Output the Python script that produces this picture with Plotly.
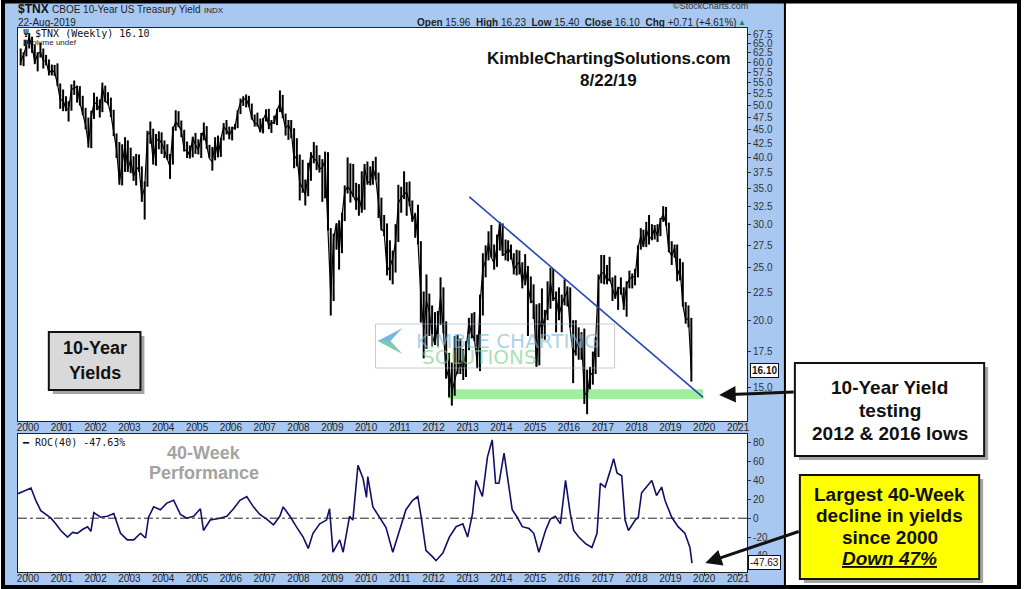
import plotly.graph_objects as go
import pandas as pd
import math

# ---------------- DATA ----------------
month_start = "1999-10-01"
price_high = [63.6, 62.6, 64.5,
              67.9, 66.9, 64.6, 62.6, 65.2, 63.6, 61.9, 60.7, 59.4, 59.3, 59.7, 54.8,
              53.4, 51.9, 50.8, 54.6, 55.5, 54.3, 54.2, 52.0, 49.4, 47.4, 48.8, 52.7,
              51.8, 51.2, 55.0, 54.3, 52.8, 51.6, 49.0, 44.3, 42.7, 42.3, 43.6, 43.0,
              41.7, 40.2, 40.6, 40.5, 38.5, 36.1, 44.8, 46.6, 45.2, 44.2, 44.7, 44.5,
              43.0, 42.3, 40.6, 45.6, 48.9, 48.7, 46.8, 45.0, 42.8, 42.1, 43.7, 44.4,
              43.2, 44.4, 46.4, 45.7, 42.2, 41.8, 43.6, 43.9, 43.5, 46.3, 46.9, 45.6,
              45.6, 46.1, 48.9, 51.4, 51.9, 52.3, 52.0, 50.3, 48.0, 48.4, 47.2, 47.3,
              49.1, 49.2, 46.9, 47.8, 49.2, 53.2, 52.2, 48.2, 46.9, 46.9, 45.3, 43.4,
              40.5, 39.6, 36.4, 39.1, 40.9, 42.7, 42.1, 40.4, 39.7, 41.0, 40.9, 29.6,
              28.9, 30.2, 30.6, 31.6, 35.5, 40.0, 39.0, 38.9, 35.9, 35.7, 37.7, 38.9,
              39.3, 38.5, 39.4, 40.1, 37.5, 33.7, 31.3, 30.2, 28.1, 26.9, 30.1, 35.6,
              35.3, 37.7, 36.0, 36.1, 33.3, 31.4, 32.7, 28.0, 22.6, 24.3, 22.4, 21.3,
              20.7, 20.8, 24.0, 23.0, 19.9, 17.4, 16.7, 18.7, 18.8, 18.5, 17.7, 18.3,
              20.2, 20.6, 20.7, 18.8, 22.3, 26.6, 27.5, 29.2, 30.0, 27.6, 28.8, 30.4,
              30.2, 28.2, 28.1, 27.6, 26.6, 27.0, 26.9, 25.6, 26.5, 25.2, 24.1, 23.3,
              21.4, 21.5, 22.9, 20.9, 23.6, 25.0, 24.9, 22.6, 23.0, 22.3, 23.8, 23.1,
              23.0, 20.0, 20.0, 19.4, 19.0, 19.3, 16.2, 16.4, 17.5, 18.6, 24.3, 26.4,
              26.4, 25.3, 26.2, 24.0, 24.2, 23.0, 24.0, 23.0, 23.6, 24.7, 24.4, 24.9,
              27.5, 29.6, 29.4, 30.4, 31.3, 30.1, 30.0, 30.1, 30.9, 32.5, 32.4, 30.3,
              28.0, 27.6, 27.6, 26.0, 25.6, 21.6, 21.3, 20.2]
price_low = [59.2, 59.0, 61.5,
             63.6, 62.4, 59.5, 57.7, 61.2, 58.4, 59.2, 56.7, 56.7, 56.6, 54.2, 49.2,
             48.7, 48.7, 46.6, 48.8, 52.2, 50.5, 49.9, 47.9, 45.1, 41.7, 41.6, 47.1,
             48.9, 47.4, 48.5, 50.6, 50.1, 47.5, 43.8, 39.9, 35.6, 35.5, 37.6, 37.6,
             37.4, 36.2, 35.5, 37.6, 33.1, 30.7, 35.3, 42.4, 38.8, 38.6, 41.4, 40.6,
             39.9, 39.6, 36.5, 38.8, 44.8, 45.5, 43.6, 41.0, 39.9, 39.8, 40.0, 40.6,
             40.5, 39.9, 43.0, 41.5, 39.9, 37.8, 39.5, 40.0, 40.1, 43.0, 44.1, 43.2,
             43.0, 45.0, 45.3, 48.1, 49.8, 49.5, 49.6, 47.0, 45.6, 45.6, 44.5, 44.3,
             46.6, 45.1, 44.4, 46.1, 45.9, 48.5, 47.3, 43.9, 43.1, 43.4, 38.2, 38.5,
             33.3, 34.4, 32.6, 33.9, 36.2, 39.0, 37.9, 37.5, 33.1, 33.6, 29.3, 20.4,
             21.7, 27.0, 24.8, 26.6, 30.5, 34.3, 33.0, 33.8, 32.0, 31.2, 31.6, 32.0,
             35.6, 35.5, 35.6, 36.4, 30.9, 29.3, 28.6, 24.2, 23.7, 23.3, 24.5, 27.9,
             31.6, 33.5, 31.2, 32.5, 30.4, 28.4, 27.6, 19.8, 17.0, 17.7, 18.7, 17.9,
             18.0, 17.9, 19.6, 18.9, 15.6, 14.4, 13.9, 14.5, 15.9, 15.9, 15.5, 15.7,
             17.6, 18.5, 18.3, 16.3, 16.1, 20.4, 24.0, 25.8, 26.1, 24.8, 25.1, 26.9,
             26.3, 25.8, 25.7, 25.9, 24.3, 24.2, 24.3, 22.9, 23.2, 18.7, 21.5, 20.1,
             16.4, 16.5, 18.5, 18.4, 20.0, 21.0, 21.7, 19.0, 20.0, 19.0, 21.3, 21.2,
             19.4, 15.3, 17.2, 16.9, 16.9, 14.0, 13.4, 14.9, 15.2, 15.9, 17.1, 23.4,
             23.3, 23.3, 23.6, 21.7, 21.9, 20.9, 22.3, 20.9, 20.3, 22.9, 22.9, 23.2,
             24.0, 27.0, 27.3, 27.3, 27.6, 28.1, 28.2, 27.9, 28.6, 30.4, 29.9, 26.7,
             25.3, 26.1, 23.6, 23.7, 21.2, 19.7, 19.4, 15.4]
price_close = [60.2, 61.9, 64.4,
               66.7, 64.1, 60.0, 62.1, 62.7, 60.3, 60.3, 57.2, 58.0, 57.5, 54.7, 51.1,
               51.1, 49.0, 49.2, 53.4, 53.8, 54.1, 50.5, 48.3, 45.9, 42.3, 47.5, 50.5,
               50.3, 48.8, 54.0, 50.8, 50.4, 48.0, 44.6, 41.4, 36.0, 38.9, 42.1, 38.1,
               39.6, 36.9, 38.0, 38.4, 33.7, 35.2, 44.1, 44.6, 39.4, 42.9, 43.3, 42.5,
               41.3, 39.7, 38.4, 45.1, 46.5, 45.8, 44.8, 41.2, 41.2, 40.3, 43.5, 42.2,
               41.3, 43.6, 44.8, 42.0, 39.8, 39.2, 42.8, 40.2, 43.3, 45.6, 44.9, 43.9,
               45.2, 45.5, 48.5, 50.5, 51.2, 51.4, 49.8, 47.3, 46.3, 46.1, 44.6, 47.0,
               48.2, 45.6, 46.4, 46.3, 48.9, 50.3, 47.4, 45.3, 45.9, 44.7, 39.7, 40.3,
               35.9, 35.1, 34.1, 37.3, 40.6, 39.7, 39.5, 38.1, 38.3, 39.5, 29.3, 22.1,
               28.4, 30.2, 26.6, 31.2, 34.6, 35.3, 34.8, 34.0, 33.1, 33.9, 32.0, 38.4,
               35.9, 36.1, 38.3, 36.6, 32.9, 29.5, 29.1, 24.7, 25.1, 26.0, 27.9, 32.9,
               33.7, 34.2, 34.5, 32.9, 30.5, 31.6, 28.0, 22.2, 19.2, 21.7, 20.7, 18.8,
               18.0, 19.8, 22.1, 19.2, 15.6, 16.4, 14.7, 15.5, 16.3, 16.9, 16.1, 17.6,
               19.8, 18.8, 18.5, 16.7, 21.3, 24.9, 25.8, 27.8, 26.1, 25.5, 27.4, 30.3,
               26.4, 26.5, 27.2, 26.5, 24.8, 25.3, 25.6, 23.4, 24.9, 23.4, 21.6, 21.7,
               16.4, 20.0, 19.2, 20.3, 21.0, 23.5, 21.8, 22.1, 20.4, 21.4, 22.1, 22.7,
               19.2, 17.3, 17.7, 18.3, 18.5, 14.7, 14.5, 15.8, 16.0, 18.3, 23.7, 24.4,
               24.5, 23.6, 23.9, 22.8, 22.0, 23.0, 22.9, 21.2, 23.3, 23.8, 24.1, 24.0,
               27.2, 28.6, 27.4, 29.5, 28.3, 28.5, 29.6, 28.6, 30.6, 31.4, 30.1, 26.9,
               26.3, 27.2, 24.1, 25.0, 21.3, 20.0, 20.2, 16.1]

roc_dates = ["1999-09-15", "1999-11-03", "1999-12-28", "2000-02-03", "2000-03-29", "2000-05-19",
             "2000-07-13", "2000-09-06", "2000-10-27", "2000-12-21", "2001-03-04", "2001-04-28",
             "2001-06-18", "2001-08-12", "2001-10-06", "2001-11-11", "2001-12-13", "2002-02-24",
             "2002-05-08", "2002-07-16", "2002-09-27", "2002-12-09", "2003-02-17", "2003-05-01",
             "2003-06-24", "2003-07-27", "2003-09-20", "2003-12-02", "2004-02-09", "2004-04-23",
             "2004-07-05", "2004-09-13", "2004-11-25", "2005-02-06", "2005-03-11", "2005-05-23",
             "2005-09-06", "2005-11-18", "2006-01-30", "2006-04-09", "2006-06-21", "2006-09-02",
             "2006-11-10", "2007-01-23", "2007-04-06", "2007-06-14", "2007-07-20", "2007-10-01",
             "2007-12-09", "2008-02-21", "2008-04-16", "2008-06-06", "2008-08-18", "2008-10-30",
             "2008-12-02", "2009-01-08", "2009-03-22", "2009-04-28", "2009-07-06", "2009-08-11",
             "2009-10-05", "2009-11-29", "2010-01-05", "2010-01-19", "2010-03-15", "2010-05-27",
             "2010-08-04", "2010-10-16", "2010-12-28", "2011-03-07", "2011-05-19", "2011-07-13",
             "2011-08-19", "2011-10-09", "2011-12-21", "2012-01-26", "2012-04-09", "2012-06-18",
             "2012-08-30", "2012-11-11", "2013-01-01", "2013-02-24", "2013-04-02", "2013-06-10",
             "2013-08-04", "2013-09-24", "2013-10-31", "2013-12-06", "2014-01-30", "2014-03-26",
             "2014-04-28", "2014-06-21", "2014-08-15", "2014-10-27", "2014-12-17", "2015-02-10",
             "2015-04-23", "2015-06-13", "2015-08-07", "2015-10-01", "2015-11-25", "2016-01-15",
             "2016-02-21", "2016-04-16", "2016-06-28", "2016-09-05", "2016-10-30", "2016-12-05",
             "2017-01-26", "2017-03-24", "2017-04-28", "2017-06-03", "2017-07-24", "2017-08-29",
             "2017-10-05", "2017-12-17", "2018-01-19", "2018-02-24", "2018-04-20", "2018-06-14",
             "2018-08-04", "2018-09-28", "2018-11-03", "2019-01-15", "2019-03-25", "2019-06-06",
             "2019-07-31", "2019-08-22"]
roc_values = [26, 28, 30, 32, 18, 8,
              4, 0, -6, -13, -20, -15,
              -16, -12, -9, -14, 6, 1,
              2, 5, -16, -23, -23, -16,
              -21, 1, 12, 9, 16, 19,
              4, 0, 2, 10, -13, -2,
              0, 2, 10, 19, 23, 12,
              4, -1, -7, 2, 12, 2,
              -9, -20, -32, -16, -6, -2,
              10, -36, -23, -36, 2, -2,
              56, 42, 22, 44, 12, 0,
              -10, -36, -13, 9, 19, 23,
              1, -34, -41, -45, -37, -20,
              -9, -6, -20, 5, 40, 23,
              65, 83, 37, 37, 69, 33,
              9, 1, -9, -11, -16, -36,
              -13, -1, 2, -6, 40, 5,
              -13, -20, -27, -31, -16, 37,
              33, 51, 63, 48, 45, -2,
              -13, -2, 1, 27, 33, 40,
              24, 33, 19, 1, -9, -16,
              -31, -47.63]

year_ticks = list(range(2000, 2022))
price_ticks = [15.0, 17.5, 20.0, 22.5, 25.0, 27.5, 30.0, 32.5, 35.0, 37.5, 40.0, 42.5,
               45.0, 47.5, 50.0, 52.5, 55.0, 57.5, 60.0, 62.5, 65.0, 67.5]
roc_ticks = [-40, -20, 0, 20, 40, 60, 80]

trend_dates = ["2013-01-20", "2019-12-20"]
trend_values = [33.8, 14.4]
support_dates = ["2012-06-10", "2019-12-20"]
support_low, support_high = 14.3, 14.9

# ---------------- FIGURE ----------------
W, H = 1024, 589
def px(x): return x / W
def py(y): return 1 - y / H

FONT = "Liberation Sans, Arial, sans-serif"
BLUE_BG = "#a8c8f2"

months = pd.date_range(month_start, periods=len(price_close), freq="MS") + pd.Timedelta(days=14)
months = [d.strftime("%Y-%m-%d") for d in months]

fig = go.Figure()

# support band
fig.add_trace(go.Scatter(
    x=[support_dates[0], support_dates[1], support_dates[1], support_dates[0], support_dates[0]],
    y=[support_low, support_low, support_high, support_high, support_low],
    fill="toself", fillcolor="#9ef09e", line=dict(width=0), mode="lines",
    hoverinfo="skip", showlegend=False, xaxis="x", yaxis="y"))

# weekly-style bars (high-low ranges)
bx, by = [], []
for d, h, l in zip(months, price_high, price_low):
    bx += [d, d, None]
    by += [l, h, None]
fig.add_trace(go.Scatter(x=bx, y=by, mode="lines", line=dict(color="black", width=2.0),
                         hoverinfo="skip", showlegend=False, xaxis="x", yaxis="y"))
fig.add_trace(go.Scatter(x=months, y=price_close, mode="lines", line=dict(color="black", width=1.2),
                         hoverinfo="skip", showlegend=False, xaxis="x", yaxis="y"))

# trend line
fig.add_trace(go.Scatter(x=trend_dates, y=trend_values, mode="lines",
                         line=dict(color="#2746b8", width=1.6), hoverinfo="skip",
                         showlegend=False, xaxis="x", yaxis="y"))

# ROC line
fig.add_trace(go.Scatter(x=roc_dates, y=roc_values, mode="lines",
                         line=dict(color="#10106a", width=1.6), hoverinfo="skip",
                         showlegend=False, xaxis="x2", yaxis="y2"))

x_range = ["1999-09-15", "2021-04-08"]
common_x = dict(type="date", range=x_range, showgrid=False, zeroline=False,
                tickvals=[f"{y}-01-01" for y in year_ticks], ticktext=[str(y) for y in year_ticks],
                tickfont=dict(family=FONT, size=10, color="#222"), ticks="outside", ticklen=3,
                tickcolor="#333", showline=True, linecolor="#222", linewidth=1, mirror=True,
                ticklabelstandoff=-6)

fig.update_layout(
    width=W, height=H, margin=dict(l=0, r=0, t=0, b=0),
    paper_bgcolor="white", plot_bgcolor="rgba(0,0,0,0)", showlegend=False,
    xaxis=dict(domain=[px(17), px(749)], anchor="y", **common_x),
    xaxis2=dict(domain=[px(17), px(749)], anchor="y2", matches="x", **common_x),
    yaxis=dict(domain=[py(421), py(28)], anchor="x", type="log",
               range=[math.log10(13.02), math.log10(69.4)], side="right",
               tickvals=price_ticks, ticktext=[f"{v:.1f}" for v in price_ticks],
               tickfont=dict(family=FONT, size=10, color="#333"), ticks="outside", ticklen=3,
               tickcolor="#333", showgrid=False, zeroline=False, showline=True,
               linecolor="#222", mirror=True),
    yaxis2=dict(domain=[py(572), py(434)], anchor="x2", range=[-57, 89.2], side="right",
                tickvals=roc_ticks, ticktext=[str(v) for v in roc_ticks],
                tickfont=dict(family=FONT, size=10, color="#333"), ticks="outside", ticklen=3,
                tickcolor="#333", showgrid=False, zeroline=False, showline=True,
                linecolor="#222", mirror=True),
)

shapes = []
# blue stockcharts background and white plotting panels
shapes.append(dict(type="rect", xref="paper", yref="paper", x0=px(4), x1=px(787), y0=py(586), y1=py(2),
                   fillcolor=BLUE_BG, line=dict(width=0), layer="below"))
shapes.append(dict(type="rect", xref="paper", yref="paper", x0=px(17), x1=px(749), y0=py(421), y1=py(28),
                   fillcolor="white", line=dict(width=0), layer="below"))
shapes.append(dict(type="rect", xref="paper", yref="paper", x0=px(17), x1=px(749), y0=py(572), y1=py(434),
                   fillcolor="white", line=dict(width=0), layer="below"))
# zero line in ROC panel
shapes.append(dict(type="line", xref="x2 domain", yref="y2", x0=0, x1=1, y0=0, y1=0,
                   line=dict(color="#222", width=1, dash="dashdot"), layer="above"))
# separator & outer border
shapes.append(dict(type="line", xref="paper", yref="paper", x0=px(787), x1=px(787), y0=py(586), y1=py(2),
                   line=dict(color="black", width=2)))
shapes.append(dict(type="rect", xref="paper", yref="paper", x0=px(2), x1=px(1022), y0=py(587), y1=py(1.5),
                   line=dict(color="black", width=4), fillcolor="rgba(0,0,0,0)"))

def box(x0, y0, x1, y1, fill, lw=2):
    shapes.append(dict(type="rect", xref="paper", yref="paper", x0=px(x0 + 4), x1=px(x1 + 4),
                       y0=py(y1 + 4), y1=py(y0 + 4), fillcolor="rgba(90,90,90,0.55)", line=dict(width=0)))
    shapes.append(dict(type="rect", xref="paper", yref="paper", x0=px(x0), x1=px(x1),
                       y0=py(y1), y1=py(y0), fillcolor=fill, line=dict(color="#111", width=lw)))

box(48, 332, 140, 390, "#d9d9d9")
box(797, 363, 987, 456, "white")
box(802, 475, 982, 579, "#ffff00")

# watermark frame and arrow logo
shapes.append(dict(type="rect", xref="paper", yref="paper", x0=px(376), x1=px(616), y0=py(368), y1=py(324),
                   line=dict(color="rgba(150,170,190,0.6)", width=1), fillcolor="rgba(0,0,0,0)"))
shapes.append(dict(type="path", xref="paper", yref="paper",
                   path=f"M {px(378)},{py(341)} L {px(403)},{py(328)} L {px(391)},{py(341)} Z",
                   fillcolor="rgba(70,160,215,0.75)", line=dict(width=0)))
shapes.append(dict(type="path", xref="paper", yref="paper",
                   path=f"M {px(378)},{py(341)} L {px(391)},{py(341)} L {px(403)},{py(354)} Z",
                   fillcolor="rgba(80,185,140,0.75)", line=dict(width=0)))
fig.update_layout(shapes=shapes)

ann = []
def text(x, y, s, size=10, color="#111", xanchor="left", yanchor="middle", family=FONT, **kw):
    ann.append(dict(xref="paper", yref="paper", x=px(x), y=py(y), text=s, showarrow=False,
                    xanchor=xanchor, yanchor=yanchor, font=dict(family=family, size=size, color=color), **kw))

# header
text(15, 9, "<b>$TNX</b>", size=12, color="#111")
text(49, 9, "CBOE 10-Year US Treasury Yield", size=10, color="#222")
text(202, 10, "INDX", size=8, color="#222")
text(15, 22, "22-Aug-2019", size=10, color="#222")
text(752, 6, "©StockCharts.com", size=9, color="#333", xanchor="right")
text(741, 22, "<b>Open</b> 15.96  <b>High</b> 16.23  <b>Low</b> 15.40  <b>Close</b> 16.10  <b>Chg</b> +0.71 (+4.61%)",
     size=10, color="#222", xanchor="right")
text(750, 22, "▲", size=8, color="#1a8a3a", xanchor="right")

# legends in panels
text(20, 34, "Ψ $TNX (Weekly) 16.10", size=10, color="#111", family="DejaVu Sans Mono, monospace")
text(20, 42, "<b>▮</b>Volume undef", size=8, color="#222")
text(19, 442, "━ ROC(40) -47.63%", size=10, color="#111", family="DejaVu Sans Mono, monospace")

# titles
text(610, 58, "<b>KimbleChartingSolutions.com</b>", size=17, xanchor="center")
text(610, 81, "<b>8/22/19</b>", size=17, xanchor="center")
text(204, 453, "<b>40-Week</b>", size=18, color="#a3a3a3", xanchor="center")
text(204, 473, "<b>Performance</b>", size=18, color="#a3a3a3", xanchor="center")

# watermark text
text(509, 341, "KIMBLE CHARTING", size=20, color="rgba(120,185,220,0.65)", xanchor="center",
     family="DejaVu Sans, Verdana, sans-serif")
text(480, 357, "SOLUTIONS", size=20, color="rgba(120,205,140,0.65)", xanchor="center",
     family="DejaVu Sans, Verdana, sans-serif")

# boxes text
text(94, 348, "<b>10-Year</b>", size=18, xanchor="center")
text(94, 373, "<b>Yields</b>", size=18, xanchor="center")
text(892, 387, "<b>10-Year Yield</b>", size=19, xanchor="center")
text(892, 410, "<b>testing</b>", size=19, xanchor="center")
text(892, 433, "<b>2012 & 2016 lows</b>", size=19, xanchor="center")
text(892, 494, "<b>Largest 40-Week</b>", size=19, xanchor="center")
text(892, 515, "<b>decline in yields</b>", size=19, xanchor="center")
text(892, 537, "<b>since 2000</b>", size=19, xanchor="center")
text(892, 558, "<b><i><u>Down 47%</u></i></b>", size=19, xanchor="center")

# value tags on axes
text(752, 370, "<b>16.10</b>", size=10, bgcolor="white", bordercolor="#111", borderwidth=1, borderpad=1)
text(750, 562, "-47.63", size=10, bgcolor="white", bordercolor="#111", borderwidth=1, borderpad=1)

# arrows (tail offsets in pixels)
ann.append(dict(xref="paper", yref="paper", x=px(721), y=py(395), ax=76, ay=-3,
                axref="pixel", ayref="pixel", text="", showarrow=True, arrowhead=2,
                arrowsize=1.1, arrowwidth=3, arrowcolor="#111"))
ann.append(dict(xref="paper", yref="paper", x=px(707), y=py(563), ax=95, ay=-32,
                axref="pixel", ayref="pixel", text="", showarrow=True, arrowhead=2,
                arrowsize=1.1, arrowwidth=3, arrowcolor="#111"))

fig.update_layout(annotations=ann)
fig.write_html("out.html", config={"displayModeBar": False},
               post_script="document.body.style.margin='0';document.body.style.overflow='hidden';")
